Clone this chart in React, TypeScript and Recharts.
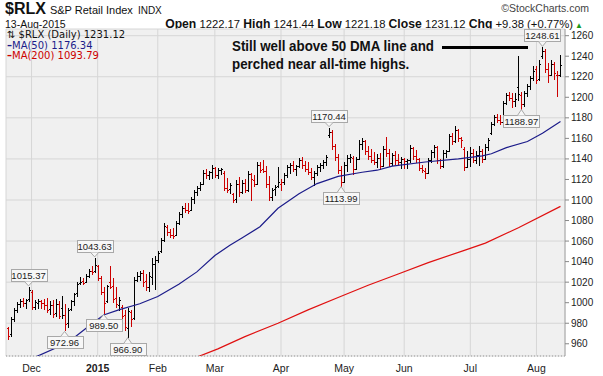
import React from 'react';
import { ComposedChart, Bar, Line, XAxis, YAxis, CartesianGrid, ReferenceDot } from 'recharts';

// [open, high, low, close] per trading day
type Ohlc = [number, number, number, number];

const novBars: Ohlc[] = [
  [975, 976, 965, 968], [970, 986, 968, 984], [984, 995, 982, 993], [993, 1001, 991, 999],
  [999, 1004, 996, 1002], [1002, 1005, 997, 1000], [1000, 1004, 995, 1003], [1004, 1015.37, 1002, 1012],
];
const decBars: Ohlc[] = [
  [1010, 1012, 994, 996], [996, 1003, 994, 1001], [1000, 1004, 995, 1002], [1002, 1003, 995, 1000],
  [1000, 1004, 994, 998], [998, 1005, 991, 993], [994, 1002, 989, 998], [998, 1003, 986, 989],
  [990, 1004, 987, 999], [999, 1002, 985, 987], [995, 1007, 985, 988], [988, 999, 972.96, 979],
  [980, 995, 976, 993], [994, 1003, 993, 1002], [1002, 1009, 998, 1008], [1009, 1020, 1007, 1018],
  [1019, 1025, 1018, 1020], [1021, 1024, 1018, 1019], [1020, 1028, 1020, 1026], [1026, 1033, 1025, 1031],
  [1031, 1036, 1028, 1030], [1031, 1043.63, 1030, 1037],
];
const janBars: Ohlc[] = [
  [1036, 1037, 1022, 1024], [1024, 1026, 1008, 1010], [1010, 1015, 989.5, 1000], [1002, 1017, 1001, 1016],
  [1020, 1036, 1014, 1015], [1016, 1024, 1001, 1004], [1005, 1015, 996, 999], [998, 1006, 993, 1003],
  [996, 998, 985, 987], [988, 993, 973, 976], [975, 995, 966.9, 992], [991, 993, 977, 984],
  [985, 1025, 984, 1022], [1022, 1030, 1021, 1026], [1026, 1031, 1022, 1029], [1029, 1032, 1016, 1020],
  [1021, 1028, 1012, 1015], [1015, 1030, 1011, 1026], [1025, 1044, 1018, 1038], [1038, 1045, 1013, 1042],
];
const febBars: Ohlc[] = [
  [1042, 1050, 1040, 1048], [1050, 1063, 1049, 1061], [1061, 1078, 1060, 1075], [1074, 1076, 1066, 1069],
  [1069, 1072, 1064, 1066], [1066, 1073, 1063, 1065], [1066, 1080, 1066, 1078], [1078, 1088, 1077, 1086],
  [1086, 1094, 1083, 1092], [1092, 1097, 1088, 1090], [1090, 1097, 1087, 1089], [1090, 1103, 1090, 1101],
  [1101, 1110, 1097, 1108], [1108, 1114, 1105, 1112], [1112, 1118, 1110, 1116], [1116, 1129, 1116, 1126],
  [1126, 1130, 1121, 1124], [1124, 1128, 1120, 1127], [1127, 1134, 1121, 1131],
];
const marBars: Ohlc[] = [
  [1131, 1132, 1122, 1124], [1124, 1131, 1121, 1129], [1129, 1131, 1125, 1130], [1126, 1128, 1110, 1112],
  [1112, 1121, 1108, 1110], [1111, 1117, 1107, 1115], [1106, 1107, 1098, 1100], [1101, 1119, 1098, 1116],
  [1116, 1122, 1104, 1108], [1108, 1119, 1107, 1117], [1117, 1120, 1108, 1110], [1110, 1128, 1109, 1125],
  [1125, 1126, 1100, 1120], [1119, 1124, 1114, 1116], [1116, 1137, 1116, 1134], [1134, 1137, 1127, 1129],
  [1130, 1139, 1127, 1128], [1128, 1133, 1113, 1116], [1116, 1123, 1100, 1103], [1103, 1112, 1100, 1110],
  [1111, 1115, 1105, 1113], [1114, 1132, 1113, 1118],
];
const aprBars: Ohlc[] = [
  [1116, 1120, 1110, 1118], [1118, 1126, 1116, 1124], [1124, 1134, 1122, 1132], [1132, 1136, 1126, 1134],
  [1134, 1138, 1128, 1130], [1130, 1134, 1124, 1133], [1133, 1141, 1132, 1139], [1139, 1142, 1131, 1134],
  [1134, 1138, 1128, 1130], [1130, 1137, 1125, 1127], [1127, 1131, 1120, 1122], [1122, 1128, 1115, 1126],
  [1126, 1134, 1124, 1132], [1132, 1136, 1128, 1134], [1134, 1139, 1131, 1137], [1137, 1144, 1134, 1142],
  [1163, 1170.44, 1161, 1166], [1166, 1168, 1150, 1153], [1153, 1155, 1139, 1142], [1142, 1145, 1126, 1129],
  [1129, 1133, 1113.99, 1118],
];
const mayBars: Ohlc[] = [
  [1118, 1137, 1118, 1134], [1134, 1144, 1128, 1141], [1141, 1145, 1137, 1142], [1141, 1143, 1125, 1130],
  [1130, 1142, 1130, 1140], [1140, 1158, 1140, 1155], [1155, 1160, 1150, 1157], [1157, 1158, 1145, 1148],
  [1148, 1153, 1140, 1143], [1143, 1150, 1137, 1139], [1139, 1147, 1135, 1137], [1137, 1145, 1132, 1141],
  [1141, 1146, 1130, 1133], [1133, 1153, 1133, 1150], [1150, 1161, 1143, 1146], [1146, 1150, 1133, 1136],
  [1136, 1146, 1134, 1144], [1144, 1148, 1135, 1139], [1139, 1145, 1135, 1137], [1137, 1142, 1131, 1140],
];
const junBars: Ohlc[] = [
  [1140, 1141, 1131, 1138], [1138, 1140, 1131, 1139], [1139, 1154, 1137, 1151], [1151, 1152, 1140, 1143],
  [1143, 1149, 1137, 1140], [1140, 1141, 1129, 1131], [1131, 1134, 1127, 1129], [1128, 1131, 1121, 1126],
  [1126, 1141, 1126, 1139], [1139, 1149, 1137, 1147], [1147, 1154, 1142, 1152], [1152, 1153, 1136, 1139],
  [1139, 1140, 1131, 1133], [1133, 1149, 1132, 1146], [1146, 1149, 1142, 1148], [1148, 1164, 1148, 1162],
  [1162, 1165, 1155, 1157], [1157, 1172, 1156, 1168], [1168, 1169, 1157, 1160], [1160, 1161, 1152, 1158],
  [1150, 1152, 1129, 1132], [1132, 1148, 1132, 1140],
];
const julBars: Ohlc[] = [
  [1140, 1152, 1133, 1146], [1146, 1150, 1137, 1139], [1139, 1148, 1136, 1144], [1144, 1153, 1134, 1148],
  [1148, 1150, 1137, 1140], [1140, 1155, 1140, 1152], [1152, 1160, 1149, 1158], [1165, 1176, 1164, 1174],
  [1174, 1183, 1173, 1181], [1181, 1184, 1176, 1178], [1178, 1183, 1174, 1176], [1176, 1196, 1176, 1194],
  [1194, 1204, 1193, 1202], [1202, 1205, 1197, 1199], [1199, 1204, 1191, 1196], [1196, 1204, 1192, 1198],
  [1210, 1240, 1197, 1203], [1202, 1205, 1188.97, 1193], [1193, 1206, 1192, 1204], [1204, 1213, 1201, 1211],
  [1211, 1221, 1208, 1219], [1219, 1230, 1217, 1226],
];
const augBars: Ohlc[] = [
  [1228, 1230, 1214, 1217], [1218, 1236, 1217, 1232], [1240, 1248.61, 1238, 1245], [1245, 1247, 1225, 1228],
  [1228, 1233, 1215, 1222], [1222, 1236, 1222, 1232], [1232, 1234, 1218, 1224], [1222, 1226, 1201, 1221.74],
  [1222.17, 1241.44, 1221.18, 1231.12],
];

// moving averages, read at a few bar indices
const ma50Points: [number, number][] = [
  [0, 934], [10, 948], [20, 961], [27, 977], [32, 988], [37, 993], [44, 999], [50, 1006], [57, 1018],
  [63, 1030], [69, 1046], [74, 1056], [78, 1063], [84, 1074], [90, 1092], [97, 1106], [103, 1116],
  [110, 1123], [118, 1127], [123, 1129], [128, 1133], [139, 1137], [150, 1140], [158, 1143], [161, 1145],
  [166, 1151], [173, 1157], [178, 1165], [184, 1176.34],
];
const ma200Points: [number, number][] = [
  [55, 934], [63, 947], [70, 955], [79, 967], [90, 980], [100, 993], [110, 1005], [120, 1017],
  [130, 1028], [140, 1039], [152, 1051], [159, 1058], [170, 1073], [184, 1093.79],
];

const monthStarts = [8, 30, 50, 69, 91, 112, 132, 154, 176];
const monthLabels = ['Dec', '2015', 'Feb', 'Mar', 'Apr', 'May', 'Jun', 'Jul', 'Aug'];
const priceTicks = [960, 980, 1000, 1020, 1040, 1060, 1080, 1100, 1120, 1140, 1160, 1180, 1200, 1220, 1240, 1260];

const callouts: { i: number; v: number; above: boolean }[] = [
  { i: 7, v: 1015.37, above: true },
  { i: 19, v: 972.96, above: false },
  { i: 29, v: 1043.63, above: true },
  { i: 32, v: 989.5, above: false },
  { i: 40, v: 966.9, above: false },
  { i: 107, v: 1170.44, above: true },
  { i: 111, v: 1113.99, above: false },
  { i: 171, v: 1188.97, above: false },
  { i: 178, v: 1248.61, above: true },
];

const allBars = [...novBars, ...decBars, ...janBars, ...febBars, ...marBars, ...aprBars, ...mayBars, ...junBars, ...julBars, ...augBars];
const ma50Map = new Map(ma50Points);
const ma200Map = new Map(ma200Points);

const data = allBars.map(([o, h, l, c], i) => ({
  i,
  o,
  h,
  l,
  c,
  range: [l, h],
  up: i > 0 && c > allBars[i - 1][3],
  ma50: ma50Map.get(i),
  ma200: ma200Map.get(i),
}));

const FONT = '"Liberation Sans", Arial, sans-serif';
const WIDE = '"DejaVu Sans", Verdana, sans-serif';

function OhlcBar(props: any) {
  const { x, y, width, height, payload } = props;
  if (height == null || isNaN(y)) return null;
  const cx = Math.round(x + width / 2) + 0.5;
  const span = payload.h - payload.l || 1;
  const yO = Math.round(y + ((payload.h - payload.o) / span) * height) + 0.5;
  const yC = Math.round(y + ((payload.h - payload.c) / span) * height) + 0.5;
  const color = payload.up ? '#000000' : '#cc0000';
  return (
    <g stroke={color} strokeWidth={1} shapeRendering="crispEdges">
      <line x1={cx} x2={cx} y1={Math.round(y)} y2={Math.round(y + height) + 1} />
      <line x1={cx - 1.5} x2={cx} y1={yO} y2={yO} />
      <line x1={cx} x2={cx + 1.5} y1={yC} y2={yC} />
    </g>
  );
}

function Callout(props: any) {
  const { cx, cy, text, above } = props;
  const w = 36;
  const h = 12;
  const x0 = Math.round(cx - w / 2) + 0.5;
  const boxY = above ? Math.round(cy - 6 - h) + 0.5 : Math.round(cy + 6) + 0.5;
  const tipY = above ? cy - 1 : cy + 1;
  const baseY = above ? boxY + h : boxY;
  return (
    <g>
      <rect x={x0} y={boxY} width={w} height={h} fill="#f7f7f7" stroke="#a8a8a8" />
      <path d={`M${cx - 4},${baseY} L${cx},${tipY} L${cx + 4},${baseY}`} fill="#f7f7f7" stroke="#a8a8a8" />
      <text x={cx} y={boxY + 9.5} textAnchor="middle" fontSize={9.5} fontFamily={FONT} fill="#222">
        {text}
      </text>
    </g>
  );
}

function MonthTick(props: any) {
  const { x, y, payload } = props;
  const idx = monthStarts.indexOf(payload.value);
  const label = monthLabels[idx];
  return (
    <text x={x} y={y + 8} textAnchor="middle" fontSize={10.5} fontFamily={FONT} fill="#222" fontWeight={label === '2015' ? 'bold' : 'normal'}>
      {label}
    </text>
  );
}

export default function App() {
  return (
    <div style={{ position: 'fixed', left: 0, top: 0, width: 603, height: 376, background: '#fff', fontFamily: FONT, color: '#111' }}>
      <div style={{ position: 'absolute', left: 5, top: 0, whiteSpace: 'nowrap' }}>
        <span style={{ fontSize: 16, fontWeight: 'bold' }}>$RLX</span>
        <span style={{ fontSize: 11, marginLeft: 4 }}>S&amp;P Retail Index</span>
        <span style={{ fontSize: 10, marginLeft: 5 }}>INDX</span>
      </div>
      <div style={{ position: 'absolute', right: 14, top: 2, fontSize: 10.5, color: '#444' }}>©StockCharts.com</div>
      <div style={{ position: 'absolute', left: 5, top: 18, fontSize: 10.5 }}>13-Aug-2015</div>
      <div style={{ position: 'absolute', right: 20, top: 17, fontSize: 11.25, whiteSpace: 'nowrap' }}>
        <b style={{ fontSize: 12.2 }}>Open</b> 1222.17 <b style={{ fontSize: 12.2 }}>High</b> 1241.44 <b style={{ fontSize: 12.2 }}>Low</b> 1221.18{' '}
        <b style={{ fontSize: 12.2 }}>Close</b> 1231.12 <b style={{ fontSize: 12.2 }}>Chg</b> +9.38 (+0.77%)
        <span style={{ color: '#1a9a1a', fontSize: 8, marginLeft: 2 }}>▲</span>
      </div>

      <ComposedChart
        width={603}
        height={376}
        data={data}
        margin={{ top: 29, right: 0, bottom: 0, left: 6 }}
        barCategoryGap="0%"
        style={{ position: 'absolute', left: 0, top: 0 }}
      >
        <CartesianGrid stroke="#d6d6d6" fill="#f0f0f0" />
        <XAxis
          dataKey="i"
          type="category"
          ticks={monthStarts}
          interval={0}
          height={20}
          padding={{ left: 0, right: 3 }}
          tick={<MonthTick />}
          tickLine={false}
          axisLine={{ stroke: '#9a9a9a', strokeDasharray: '1 2' }}
        />
        <XAxis xAxisId="top" dataKey="i" orientation="top" height={0} tick={false} tickLine={false} axisLine={{ stroke: '#a8a8a8' }} />
        <YAxis
          orientation="right"
          domain={[948.1, 1266.5]}
          ticks={priceTicks}
          allowDataOverflow
          width={38}
          tickSize={4}
          tickMargin={2}
          tick={{ fontSize: 10, fill: '#222', fontFamily: FONT }}
          tickLine={{ stroke: '#888' }}
          axisLine={{ stroke: '#a8a8a8' }}
        />
        <YAxis yAxisId="left" orientation="left" width={0} domain={[0, 1]} tick={false} tickLine={false} axisLine={{ stroke: '#a8a8a8' }} />
        <Line dataKey="ma200" stroke="#e01010" strokeWidth={1.2} dot={false} connectNulls isAnimationActive={false} />
        <Line dataKey="ma50" stroke="#1c1c8a" strokeWidth={1.2} dot={false} connectNulls isAnimationActive={false} />
        <Bar dataKey="range" shape={<OhlcBar />} isAnimationActive={false} />
        {callouts.map((c) => (
          <ReferenceDot
            key={c.i}
            x={c.i}
            y={c.v}
            r={0}
            shape={(p: any) => <Callout {...p} text={c.v.toFixed(2)} above={c.above} />}
          />
        ))}
      </ComposedChart>

      <div style={{ position: 'absolute', left: 7, top: 30, fontSize: 10, lineHeight: '10.5px', fontFamily: WIDE, pointerEvents: 'none', whiteSpace: 'nowrap' }}>
        <div style={{ color: '#111' }}>⇅ $RLX (Daily) 1231.12</div>
        <div style={{ color: '#1c1c8a' }}>
          <span style={{ fontWeight: 'bold' }}>–</span>MA(50) 1176.34
        </div>
        <div style={{ color: '#cc0000' }}>
          <span style={{ fontWeight: 'bold' }}>–</span>MA(200) 1093.79
        </div>
      </div>

      <div
        style={{
          position: 'absolute',
          left: 232,
          top: 37,
          fontSize: 15,
          lineHeight: '18px',
          fontWeight: 'bold',
          color: '#111',
          pointerEvents: 'none',
          whiteSpace: 'nowrap',
          transform: 'scaleX(0.89)',
          transformOrigin: '0 0',
        }}
      >
        <div>Still well above 50 DMA line and</div>
        <div>perched near all-time highs.</div>
      </div>
      <div style={{ position: 'absolute', left: 442, top: 46, width: 86, height: 3, background: '#000' }} />
    </div>
  );
}
